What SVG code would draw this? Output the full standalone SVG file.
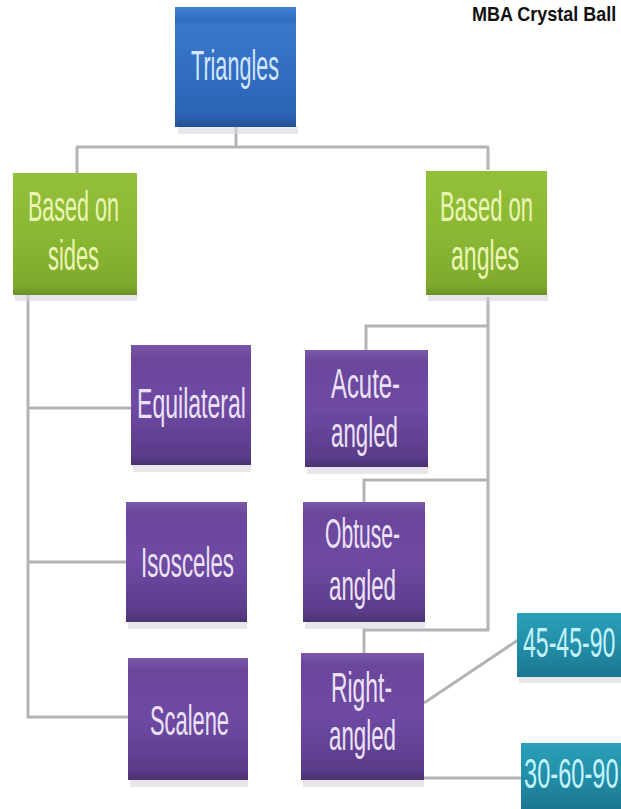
<svg xmlns="http://www.w3.org/2000/svg" width="621" height="809" viewBox="0 0 621 809">
<defs>
<linearGradient id="gBlue" x1="0" y1="0" x2="0" y2="1">
<stop offset="0" stop-color="#3f7fd2"/><stop offset="0.12" stop-color="#2f6cc2"/><stop offset="0.15" stop-color="#3a78cc"/><stop offset="0.9" stop-color="#2c63b5"/><stop offset="1" stop-color="#224f92"/>
</linearGradient>
<linearGradient id="gGreen" x1="0" y1="0" x2="0" y2="1">
<stop offset="0" stop-color="#93bf3a"/><stop offset="0.5" stop-color="#8bb834"/><stop offset="0.92" stop-color="#7fa92d"/><stop offset="1" stop-color="#6a8f26"/>
</linearGradient>
<linearGradient id="gPurple" x1="0" y1="0" x2="0" y2="1">
<stop offset="0" stop-color="#7a58a8"/><stop offset="0.1" stop-color="#6a479b"/><stop offset="0.5" stop-color="#6e4aa3"/><stop offset="0.92" stop-color="#5a3c8a"/><stop offset="1" stop-color="#4a3270"/>
</linearGradient>
<linearGradient id="gTeal" x1="0" y1="0" x2="0" y2="1">
<stop offset="0" stop-color="#2aa0b8"/><stop offset="0.5" stop-color="#238ea8"/><stop offset="1" stop-color="#1b7690"/>
</linearGradient>
<style>
.conn line, .conn polyline { stroke:#b4b4b4; fill:none; stroke-width:3; }
.shadow { fill:#d9d4dd; opacity:0.6; }
.t { font-family:"Liberation Sans", Arial, sans-serif; font-size:42px; }
.tb { fill:#d2e6ff; }
.tg { fill:#eaf6b4; }
.tp { fill:#ece2f8; }
.tt { fill:#c4f4ff; }
</style>
</defs>
<rect width="621" height="809" fill="#ffffff"/>

<text transform="translate(472,21) scale(0.9,1)" font-family="Liberation Sans, Arial, sans-serif" font-weight="bold" font-size="20" fill="#111111">MBA Crystal Ball</text>

<g class="conn">
<line x1="236" y1="126" x2="236" y2="147"/>
<line x1="76" y1="147" x2="489" y2="147"/>
<line x1="77" y1="147" x2="77" y2="173"/>
<line x1="488" y1="147" x2="488" y2="170"/>
<polyline points="28,295 28,717 128,717"/>
<line x1="28" y1="408" x2="131" y2="408"/>
<line x1="28" y1="562" x2="126" y2="562"/>
<polyline points="488,297 488,630 364,630 364,653"/>
<polyline points="488,326 366,326 366,350"/>
<polyline points="488,480 364,480 364,502"/>
<line x1="424" y1="703" x2="518" y2="640" stroke-width="2"/>
<line x1="424" y1="778" x2="521" y2="778"/>
</g>

<g id="triangles">
<rect x="178" y="126" width="120" height="8" class="shadow"/>
<rect x="175" y="7" width="121" height="120" fill="url(#gBlue)"/>
<text class="t tb" x="191" y="80" font-size="40" textLength="88" lengthAdjust="spacingAndGlyphs">Triangles</text>
</g>

<g id="based-on-sides">
<rect x="15" y="294" width="122" height="7" class="shadow"/>
<rect x="13" y="173" width="124" height="122" fill="url(#gGreen)"/>
<text class="t tg" x="28" y="221" font-size="44" textLength="91" lengthAdjust="spacingAndGlyphs">Based on</text>
<text class="t tg" x="48" y="270" font-size="44" textLength="51" lengthAdjust="spacingAndGlyphs">sides</text>
</g>

<g id="based-on-angles">
<rect x="428" y="294" width="120" height="7" class="shadow"/>
<rect x="426" y="171" width="121" height="124" fill="url(#gGreen)"/>
<text class="t tg" x="440" y="221" font-size="44" textLength="93" lengthAdjust="spacingAndGlyphs">Based on</text>
<text class="t tg" x="451" y="270" font-size="44" textLength="68" lengthAdjust="spacingAndGlyphs">angles</text>
</g>

<g id="equilateral">
<rect x="133" y="464" width="118" height="8" class="shadow"/>
<rect x="131" y="345" width="120" height="120" fill="url(#gPurple)"/>
<text class="t tp" x="137" y="418" textLength="109" lengthAdjust="spacingAndGlyphs">Equilateral</text>
</g>

<g id="isosceles">
<rect x="128" y="621" width="119" height="8" class="shadow"/>
<rect x="126" y="502" width="121" height="120" fill="url(#gPurple)"/>
<text class="t tp" x="141" y="577" textLength="93" lengthAdjust="spacingAndGlyphs">Isosceles</text>
</g>

<g id="scalene">
<rect x="130" y="779" width="118" height="8" class="shadow"/>
<rect x="128" y="658" width="120" height="122" fill="url(#gPurple)"/>
<text class="t tp" x="150" y="735" textLength="79" lengthAdjust="spacingAndGlyphs">Scalene</text>
</g>

<g id="acute-angled">
<rect x="307" y="466" width="121" height="8" class="shadow"/>
<rect x="305" y="350" width="123" height="117" fill="url(#gPurple)"/>
<text class="t tp" x="331" y="398" textLength="69" lengthAdjust="spacingAndGlyphs">Acute-</text>
<text class="t tp" x="331" y="447" textLength="67" lengthAdjust="spacingAndGlyphs">angled</text>
</g>

<g id="obtuse-angled">
<rect x="305" y="621" width="120" height="8" class="shadow"/>
<rect x="303" y="502" width="122" height="120" fill="url(#gPurple)"/>
<text class="t tp" x="325" y="548" textLength="75" lengthAdjust="spacingAndGlyphs">Obtuse-</text>
<text class="t tp" x="329" y="600" textLength="67" lengthAdjust="spacingAndGlyphs">angled</text>
</g>

<g id="right-angled">
<rect x="303" y="779" width="121" height="8" class="shadow"/>
<rect x="301" y="653" width="123" height="127" fill="url(#gPurple)"/>
<text class="t tp" x="331" y="702" textLength="61" lengthAdjust="spacingAndGlyphs">Right-</text>
<text class="t tp" x="329" y="750" textLength="67" lengthAdjust="spacingAndGlyphs">angled</text>
</g>

<g id="t45-45-90">
<rect x="519" y="676" width="102" height="7" class="shadow"/>
<rect x="517" y="613" width="104" height="64" fill="url(#gTeal)"/>
<text class="t tt" transform="translate(523,657) scale(0.55,1)" font-size="40">45-45-90</text>
</g>

<g id="t30-60-90">
<rect x="521" y="743" width="100" height="66" fill="url(#gTeal)"/>
<text class="t tt" transform="translate(524,788) scale(0.5625,1)" font-size="40">30-60-90</text>
</g>
</svg>
